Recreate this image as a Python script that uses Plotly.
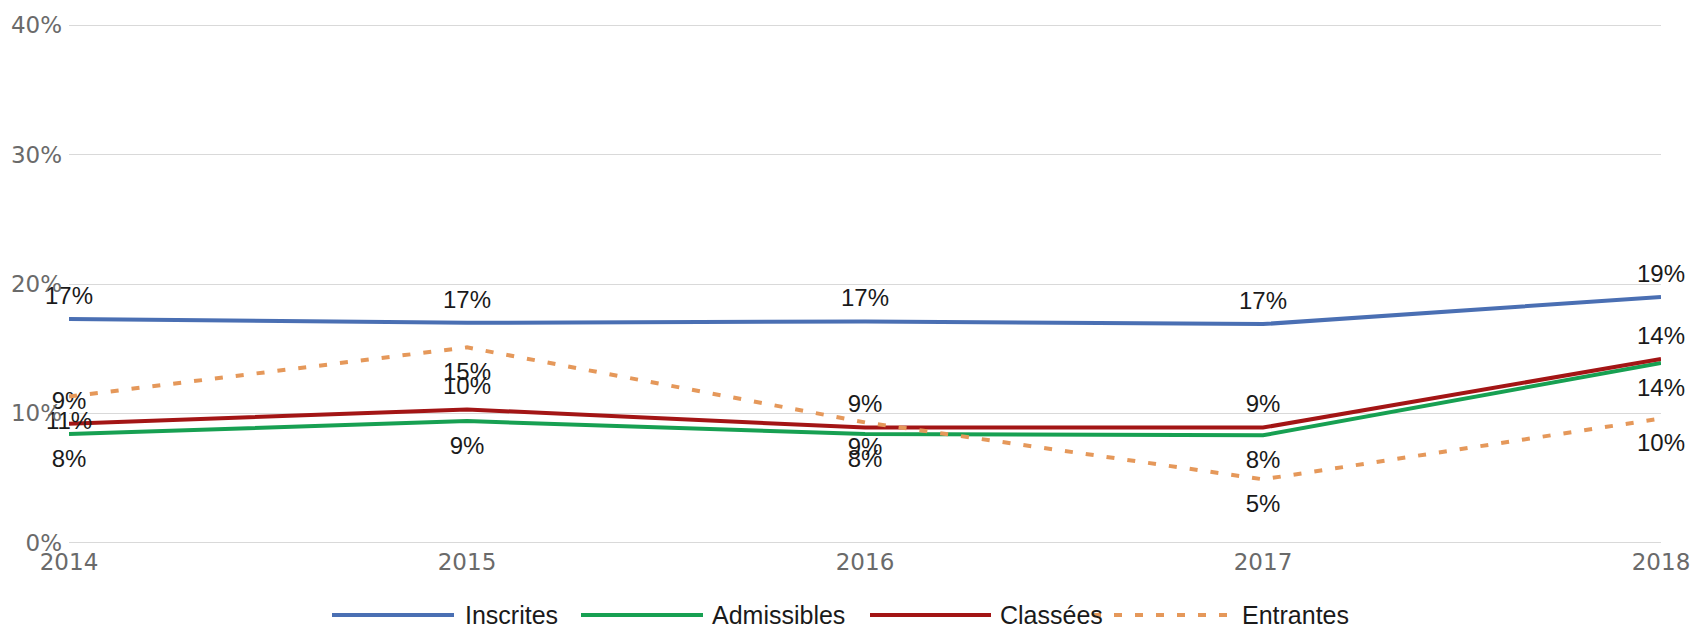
import plotly.graph_objects as go

years = [2014, 2015, 2016, 2017, 2018]
inscrites = [0.173, 0.170, 0.171, 0.169, 0.190]
admissibles = [0.084, 0.094, 0.084, 0.083, 0.139]
classees = [0.092, 0.103, 0.089, 0.089, 0.142]
entrantes = [0.113, 0.151, 0.093, 0.049, 0.096]

series_names = ["Inscrites", "Admissibles", "Classées", "Entrantes"]
series_values = [inscrites, admissibles, classees, entrantes]
colors = ["#4a6fb3", "#17a052", "#a31515", "#e5985a"]
dashes = ["solid", "solid", "solid", "8px,13px"]
label_pos = ["top center", "bottom center", "top center", "bottom center"]
label_gap = [13, 22, 13, 22]  # invisible marker size used to space labels from the line

y_ticks = [0, 0.1, 0.2, 0.3, 0.4]
y_ticklabels = ["0%", "10%", "20%", "30%", "40%"]

fig = go.Figure()
for name, vals, col, dash, pos, gap in zip(series_names, series_values, colors, dashes, label_pos, label_gap):
    fig.add_trace(go.Scatter(
        x=years, y=vals, name=name, mode="lines+markers+text",
        line=dict(color=col, width=4, dash=dash),
        marker=dict(size=gap, opacity=0, color=col),
        text=[f"{round(v*100):.0f}%" for v in vals],
        textposition=pos,
        textfont=dict(family="Liberation Sans", size=24, color="#1a1a1a"),
        cliponaxis=False, showlegend=False,
    ))

# custom legend (long line samples as in the reference)
legend_items = [(332, 454, 463), (581, 703, 710), (870, 991, 998), (1093, 1233, 1240)]
W, H = 1707, 628
L, R, T, B = 69, 46, 24, 84
pw, ph = W - L - R, H - T - B
ly = 615
for (x0, x1, xt), name, col, dash in zip(legend_items, series_names, colors, dashes):
    fig.add_shape(type="line", xref="paper", yref="paper",
                  x0=(x0 - L) / pw, x1=(x1 - L) / pw,
                  y0=(H - B - ly) / ph, y1=(H - B - ly) / ph,
                  line=dict(color=col, width=4, dash=dash))
    fig.add_annotation(xref="paper", yref="paper", x=(xt - L) / pw, y=(H - B - ly) / ph,
                       text=name, showarrow=False, xanchor="left", yanchor="middle",
                       font=dict(family="Liberation Sans", size=25, color="#1a1a1a"))

fig.update_layout(
    width=W, height=H,
    margin=dict(l=L, r=R, t=T, b=B),
    plot_bgcolor="white", paper_bgcolor="white",
    showlegend=False,
)
fig.update_xaxes(range=[2014, 2018], tickvals=years, ticktext=[str(y) for y in years],
                 showgrid=False, zeroline=False, showline=False, ticklabelstandoff=2,
                 tickfont=dict(family="DejaVu Sans", size=23, color="#6a6a6a"))
fig.update_yaxes(range=[-0.001, 0.401], tickvals=y_ticks, ticktext=y_ticklabels,
                 showgrid=True, gridcolor="#d9d9d9", gridwidth=1, zeroline=False,
                 ticklabelstandoff=6,
                 tickfont=dict(family="DejaVu Sans", size=23, color="#6a6a6a"))

fig.write_html("out.html", config={"displayModeBar": False},
               post_script="document.body.style.margin='0';")
